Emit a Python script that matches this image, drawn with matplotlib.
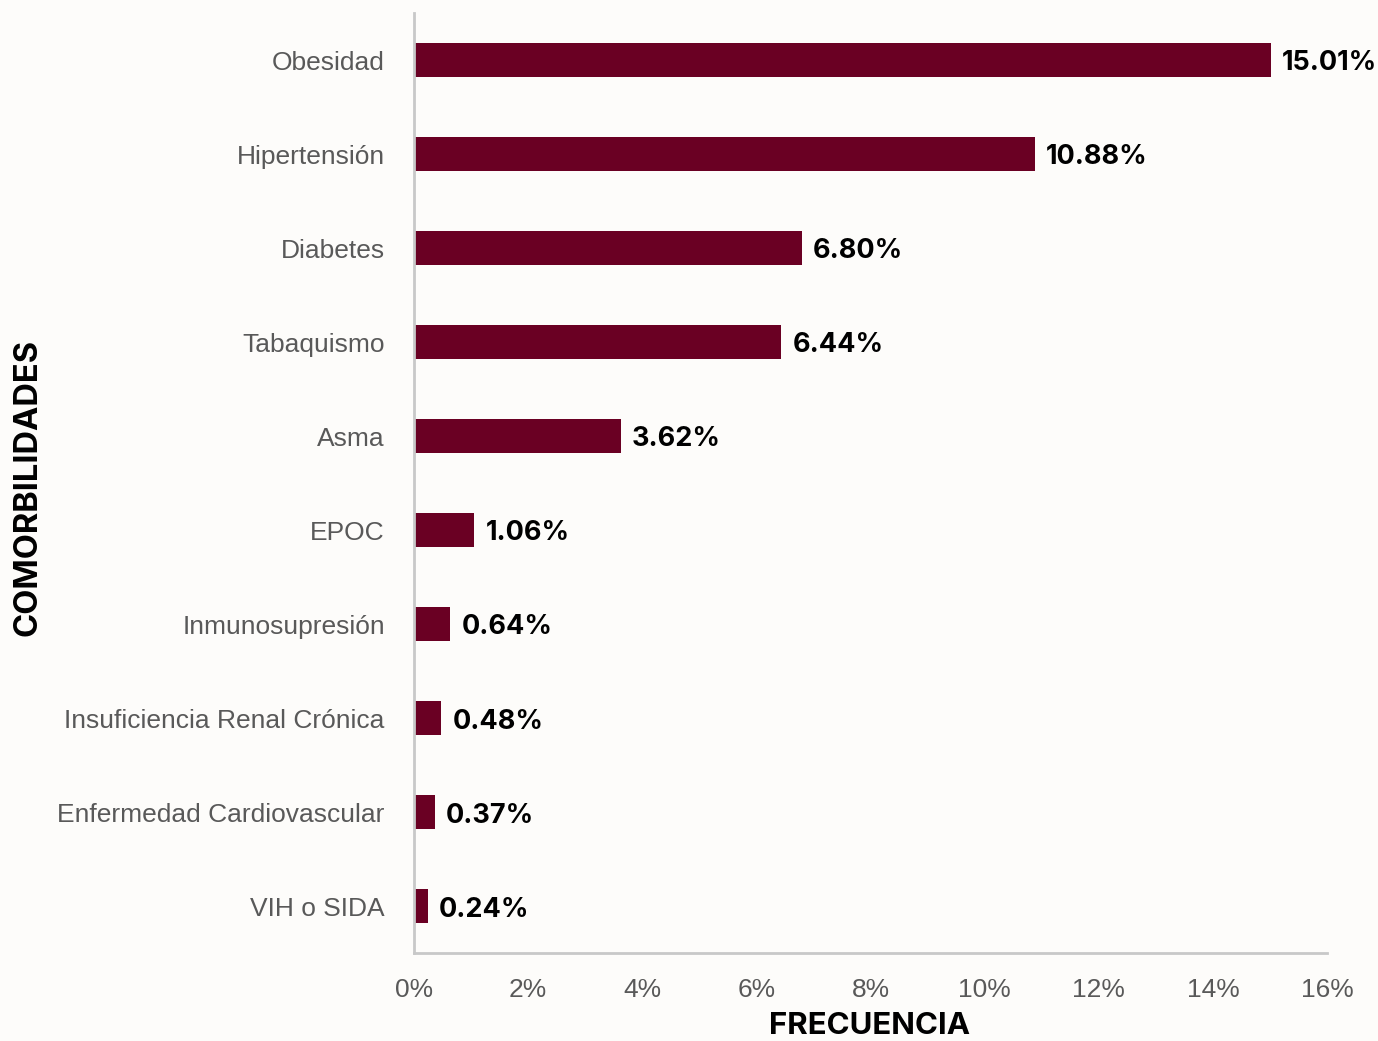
import matplotlib
matplotlib.use("Agg")
import matplotlib.pyplot as plt
from matplotlib.ticker import FuncFormatter, MultipleLocator

categories = ["Obesidad", "Hipertensión", "Diabetes", "Tabaquismo", "Asma", "EPOC",
              "Inmunosupresión", "Insuficiencia Renal Crónica",
              "Enfermedad Cardiovascular", "VIH o SIDA"]
values = [15.01, 10.88, 6.80, 6.44, 3.62, 1.06, 0.64, 0.48, 0.37, 0.24]
value_labels = ["15.01%", "10.88%", "6.80%", "6.44%", "3.62%", "1.06%",
                "0.64%", "0.48%", "0.37%", "0.24%"]

bar_color = "#6A0023"
bg = "#FDFCFA"

fig = plt.figure(figsize=(13.78, 10.41), dpi=100, facecolor=bg)
ax = fig.add_axes([0.3004, 0.0845, 0.6626, 0.903])
ax.set_facecolor("none")

y = list(range(len(categories)))
ax.barh(y, values, height=0.36, color=bar_color)
ax.set_ylim(len(categories) - 0.5, -0.5)
ax.set_xlim(0, 16)
ax.xaxis.set_major_locator(MultipleLocator(2))
ax.xaxis.set_major_formatter(FuncFormatter(lambda v, p: f"{v:.0f}%"))

ax.set_yticks(y)
ax.set_yticklabels(categories)
ax.tick_params(axis="y", length=0, pad=21, labelsize=19, labelcolor="#595959")
ax.tick_params(axis="x", length=0, pad=18, labelsize=19, labelcolor="#595959")
for lab in ax.get_yticklabels() + ax.get_xticklabels():
    lab.set_family("Liberation Sans")

for s in ["top", "right"]:
    ax.spines[s].set_visible(False)
for s in ["left", "bottom"]:
    ax.spines[s].set_color("#C8C8C8")
    ax.spines[s].set_linewidth(2)

for yi, v, t in zip(y, values, value_labels):
    ax.annotate(t, xy=(v, yi), xytext=(8, -2.5), textcoords="offset points",
                ha="left", va="center", fontsize=19.5, fontweight="bold",
                family="Inter", color="black")

fig.text(0.631, 0.001, "FRECUENCIA", ha="center", va="bottom", fontsize=22.5,
         fontweight="bold", family="Inter", color="black")
fig.text(0.020, 0.532, "COMORBILIDADES", ha="center", va="center", rotation=90,
         fontsize=23.5, fontweight="bold", family="Inter", color="black")

fig.savefig("out.png", dpi=100, facecolor=bg)
